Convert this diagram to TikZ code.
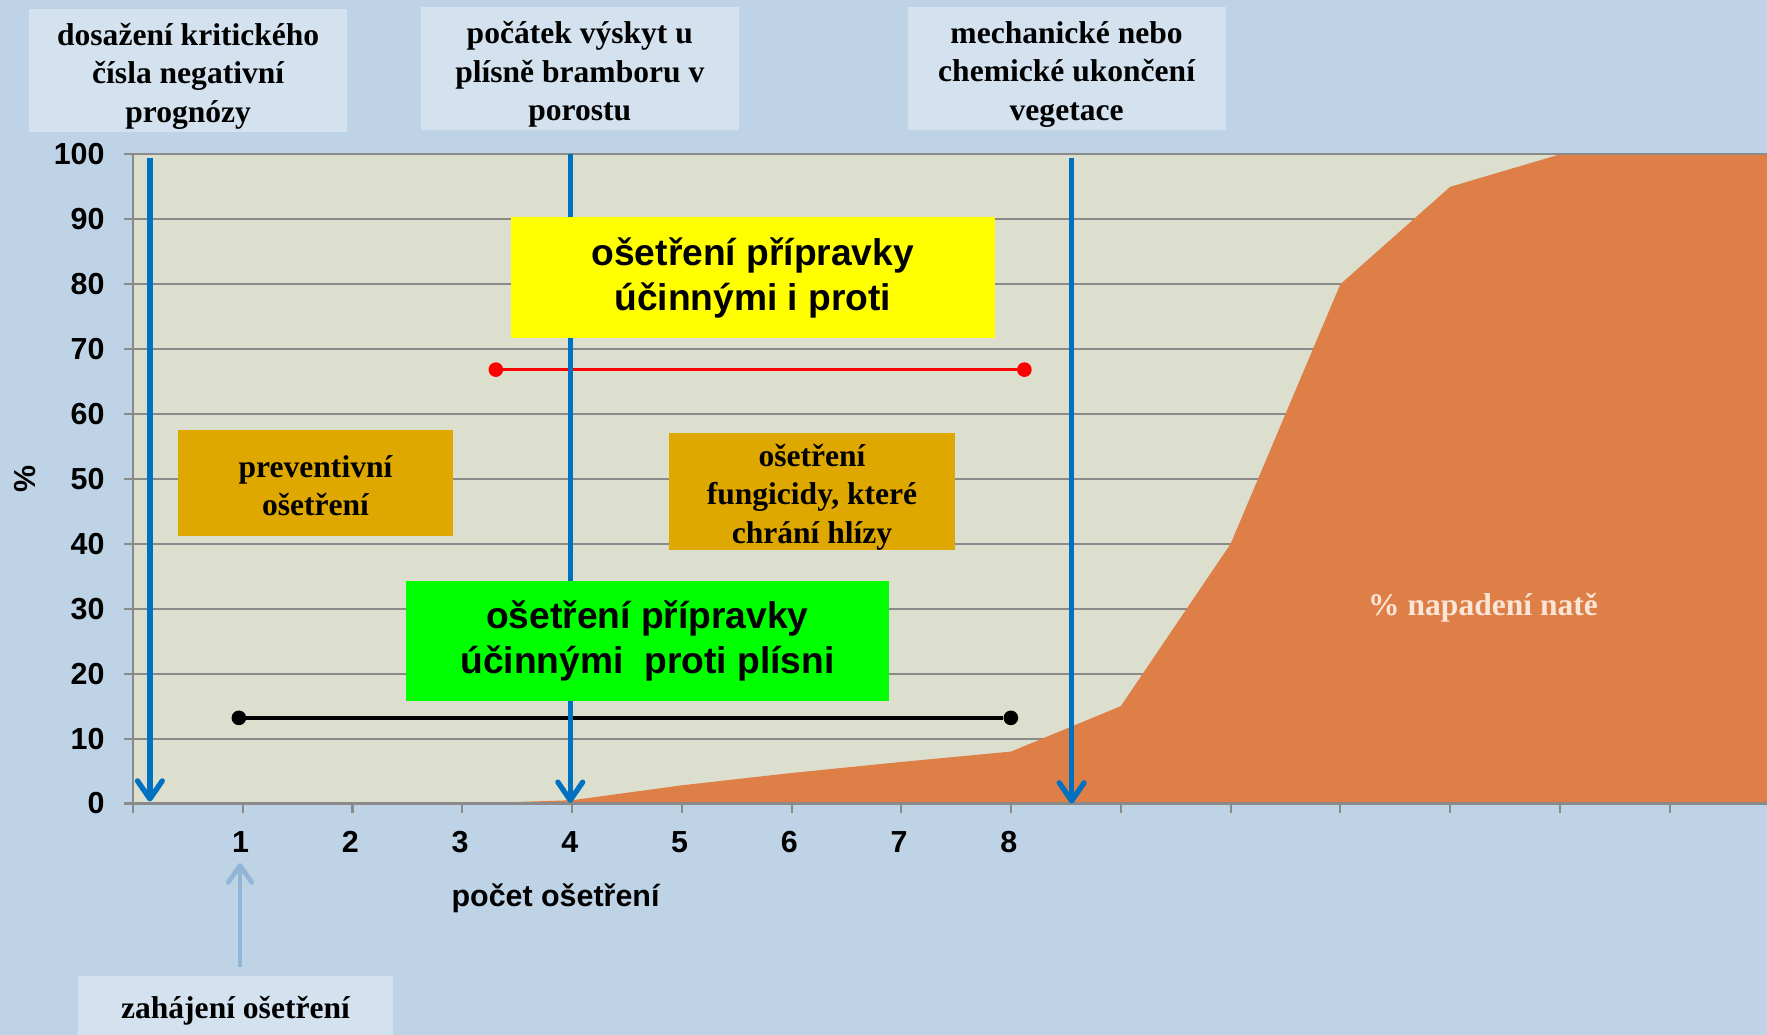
\documentclass[tikz,border=0pt]{standalone}
\usepackage{fontspec}
\setmainfont{Liberation Serif}
\setsansfont{Liberation Sans}
\usepackage{tikz}
\usetikzlibrary{arrows.meta}
\definecolor{bgblue}{RGB}{191,211,230}
\definecolor{plotbg}{RGB}{220,223,205}
\definecolor{labelblue}{RGB}{211,226,238}
\definecolor{gridgray}{RGB}{138,138,138}
\definecolor{arrowblue}{RGB}{0,112,192}
\definecolor{paleblue}{RGB}{147,181,214}
\definecolor{areaorange}{RGB}{221,127,71}
\definecolor{goldfill}{RGB}{223,168,0}
\definecolor{brightyellow}{RGB}{255,255,0}
\definecolor{brightgreen}{RGB}{0,255,0}
\definecolor{peach}{RGB}{251,229,214}

\begin{document}
\begin{tikzpicture}[x=97.4pt, y=5.76pt, every node/.style={inner sep=0pt},
	serifbold/.style={font=\bfseries\fontsize{28}{34}\selectfont, align=center},
	toplabel/.style={fill=labelblue, minimum width=282pt, minimum height=109pt},
	goldbox/.style={fill=goldfill},
	bigbox/.style={font=\sffamily\bfseries\fontsize{33}{40}\selectfont, align=center, minimum width=430pt, minimum height=107pt},
	axislab/.style={font=\sffamily\bfseries\fontsize{27}{32}\selectfont},
	ylab/.style={axislab, anchor=east},
	xlab/.style={axislab},
	gridline/.style={draw=gridgray, line width=1.8pt},
	bluearrow/.style={draw=arrowblue, line width=4.7pt, -{Straight Barb[length=16pt, width=22pt, round]}},
	startarrow/.style={draw=paleblue, line width=4.2pt, -{Straight Barb[length=15pt, width=21pt, round]}},
	dot/.style={circle, minimum size=13pt}]
					\path[fill=bgblue, use as bounding box] (-1.2115,-35.59) rectangle (14.887,123.785);
					\fill[plotbg] (0,0) rectangle (14.887,100);
					\draw[gridline] (-0.082,0) grid[xstep=20, ystep=10] (14.887,100);
					\fill[areaorange] (3.05,0) -- (4,0.5) -- (5,2.8) -- (6,4.7) -- (7,6.4) -- (8,8) -- (9,15) -- (10,40) -- (11,80) -- (12,95) -- (13,100) -- (14.887,100) -- (14.887,0) -- cycle;
					\draw[gridline] (-0.082,0) -- (14.887,0);
					\draw[gridline] (-0.082,100) -- (14.887,100);
					\draw[gridline] (0,-1.39) grid[xstep=1, ystep=20] (14.887,0);
					
					\node[ylab] (y0) at (-0.257,0) {0};
					\node[ylab] (y10) at (-0.257,10) {10};
					\node[ylab] (y20) at (-0.257,20) {20};
					\node[ylab] (y30) at (-0.257,30) {30};
					\node[ylab] (y40) at (-0.257,40) {40};
					\node[ylab] (y50) at (-0.257,50) {50};
					\node[ylab] (y60) at (-0.257,60) {60};
					\node[ylab] (y70) at (-0.257,70) {70};
					\node[ylab] (y80) at (-0.257,80) {80};
					\node[ylab] (y90) at (-0.257,90) {90};
					\node[ylab] (y100) at (-0.257,100) {100};
					
					\node[xlab] (x1) at (0.98,-5.9) {1};
					\node[xlab] (x2) at (1.98,-5.9) {2};
					\node[xlab] (x3) at (2.98,-5.9) {3};
					\node[xlab] (x4) at (3.98,-5.9) {4};
					\node[xlab] (x5) at (4.98,-5.9) {5};
					\node[xlab] (x6) at (5.98,-5.9) {6};
					\node[xlab] (x7) at (6.98,-5.9) {7};
					\node[xlab] (x8) at (7.98,-5.9) {8};
					
					\node[axislab] (xtitle) at (3.85,-14.6) {počet ošetření};
					\node[axislab, rotate=90] (ytitle) at (-0.986,50) {\%};
					\node[serifbold, text=peach] (arealabel) at (12.30,30.2) {\% napadení natě};
					
					\node[dot, fill=red] (redL) at (3.306,66.84) {};
					\node[dot, fill=red] (redR) at (8.121,66.84) {};
					\draw[red, line width=3pt] (redL) -- (redR);
					\node[dot, fill=black] (blackL) at (0.965,13.19) {};
					\node[dot, fill=black] (blackR) at (7.998,13.19) {};
					\draw[black, line width=3pt] (blackL) -- (blackR);
					
					\coordinate (critTop) at (0.154,99.5);
					\coordinate (critTip) at (0.154,0.3);
					\coordinate (onsetTop) at (3.984,100);
					\coordinate (onsetTip) at (3.984,0.1);
					\coordinate (endTop) at (8.552,99.5);
					\coordinate (endTip) at (8.552,0);
					\coordinate (startFoot) at (0.975,-25.17);
					\coordinate (startTip) at (0.975,-9.2);
					\draw[bluearrow] (critTop) -- (critTip);
					\draw[bluearrow] (onsetTop) -- (onsetTip);
					\draw[bluearrow] (endTop) -- (endTip);
					\draw[startarrow] (startFoot) -- (startTip);
					
					\node[toplabel] (critbox) at (0.503,112.93) {};
					\node[serifbold] (crittext) at ([yshift=-5pt]critbox.center) {dosažení kritického\\čísla negativní\\prognózy};
					\node[toplabel] (onsetbox) at (4.071,113.19) {};
					\node[serifbold] (onsettext) at ([yshift=-5pt]onsetbox.center) {počátek výskyt u\\plísně bramboru v\\porostu};
					\node[toplabel] (endbox) at (8.506,113.19) {};
					\node[serifbold] (endtext) at ([yshift=-5pt]endbox.center) {mechanické nebo\\chemické ukončení\\vegetace};
					\node[toplabel, minimum width=280pt, minimum height=52pt] (startbox) at (0.934,-31.08) {};
					\node[serifbold] (starttext) at ([yshift=-5pt]startbox.center) {zahájení ošetření};
					
					\node[goldbox, minimum width=244pt, minimum height=94pt] (prevbox) at (1.663,49.31) {};
					\node[serifbold] (prevtext) at ([yshift=-2pt]prevbox.center) {preventivní\\ošetření};
					\node[goldbox, minimum width=253pt, minimum height=104pt] (tuberbox) at (6.186,48.09) {};
					\node[serifbold] (tubertext) at ([yshift=-5pt]tuberbox.center) {ošetření\\fungicidy, které\\chrání hlízy};
					\node[bigbox, fill=brightyellow] (bothbox) at (5.647,80.99) {ošetření přípravky\\účinnými i proti};
					\node[bigbox, fill=brightgreen, minimum width=429pt, minimum height=106pt] (blightbox) at (4.687,25.0) {ošetření přípravky\\účinnými~~proti plísni};
				\end{tikzpicture}
\end{document}
